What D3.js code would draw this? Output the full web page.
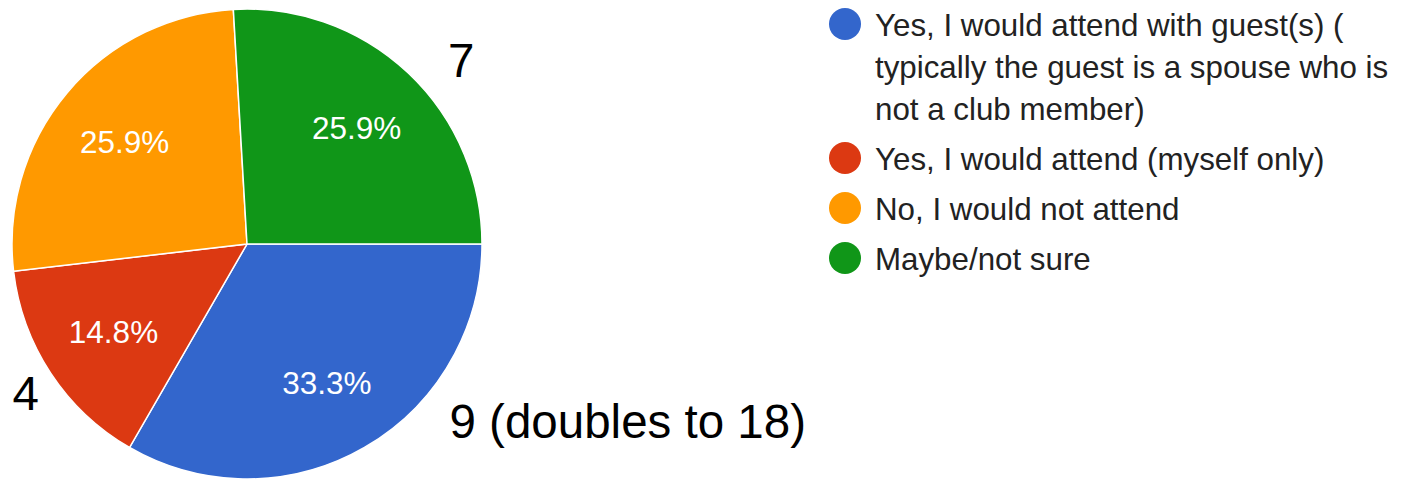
<!DOCTYPE html>
<html>
<head>
<meta charset="utf-8">
<script src="https://cdnjs.cloudflare.com/ajax/libs/d3/7.8.5/d3.min.js"></script>
<style>
  body { margin: 0; background: #fff; }
  svg { display: block; font-family: "Liberation Sans", Arial, Helvetica, sans-serif; }
</style>
</head>
<body>
<svg id="chart" width="1406" height="481"></svg>
<script>
// answers, in the order they go round the pie (starting at 3 o'clock)
var categories = ["Yes, I would attend with guest(s) ( typically the guest is a spouse who is not a club member)",
                  "Yes, I would attend (myself only)",
                  "No, I would not attend",
                  "Maybe/not sure"];
var counts = [9, 4, 7, 7];
var colors = ["#3366cc", "#dc3912", "#ff9900", "#109618"];
// legend text as it wraps in the picture
var legendLines = [
  ["Yes, I would attend with guest(s) (", "typically the guest is a spouse who is", "not a club member)"],
  ["Yes, I would attend (myself only)"],
  ["No, I would not attend"],
  ["Maybe/not sure"]
];
// hand written notes next to the slices
var notes = ["9 (doubles to 18)", "4", "7", "7"];
var showNote = [true, true, false, true];

var svg = d3.select("#chart");
var cx = 247, cy = 244, radius = 235;
var total = d3.sum(counts);

var slices = counts.map(function(c, i){ return {value: c, color: colors[i], name: categories[i], i: i}; });

var pie = d3.pie()
  .value(function(d){ return d.value; })
  .sort(null)
  .startAngle(Math.PI / 2)
  .endAngle(Math.PI / 2 + 2 * Math.PI);

var arc = d3.arc().innerRadius(0).outerRadius(radius);
var labelArc = d3.arc().innerRadius(radius * 0.68).outerRadius(radius * 0.68);
var edgeArc = d3.arc().innerRadius(radius).outerRadius(radius);

var g = svg.append("g").attr("transform", "translate(" + cx + "," + cy + ")");
var arcs = pie(slices);

g.selectAll("path").data(arcs).enter()
  .append("path")
  .attr("d", arc)
  .attr("fill", function(d){ return d.data.color; })
  .attr("stroke", "#fff")
  .attr("stroke-width", 1.5);

var pct = d3.format(".1%");
g.selectAll("text.pct").data(arcs).enter()
  .append("text")
  .attr("class", "pct")
  .attr("transform", function(d){ var c = labelArc.centroid(d); return "translate(" + c[0] + "," + (c[1] + 11.5) + ")"; })
  .attr("text-anchor", "middle")
  .attr("font-size", 31.5)
  .attr("fill", "#fff")
  .text(function(d){ return pct(d.value / total); });

// notes sit just outside the slice edge
var noteOffset = [[85, -10, "start"], [-25, 37, "middle"], [0, 0, "middle"], [53, 4, "middle"]];
g.selectAll("text.note").data(arcs.filter(function(d){ return showNote[d.data.i]; })).enter()
  .append("text")
  .attr("class", "note")
  .attr("x", function(d){ return edgeArc.centroid(d)[0] + noteOffset[d.data.i][0]; })
  .attr("y", function(d){ return edgeArc.centroid(d)[1] + noteOffset[d.data.i][1]; })
  .attr("text-anchor", function(d){ return noteOffset[d.data.i][2]; })
  .attr("font-size", 47.5)
  .attr("fill", "#000")
  .text(function(d){ return notes[d.data.i]; });

// legend
var lineH = 42, gap = 50, y0 = 24;
var legendY = [];
legendLines.reduce(function(y, lines){ legendY.push(y); return y + (lines.length - 1) * lineH + gap; }, y0);

var items = svg.append("g").selectAll("g").data(slices).enter()
  .append("g")
  .attr("transform", function(d){ return "translate(845," + legendY[d.i] + ")"; });

items.append("circle")
  .attr("r", 16)
  .attr("fill", function(d){ return d.color; });

items.append("text")
  .attr("x", 30)
  .attr("font-size", 31.3)
  .attr("fill", "#222")
  .selectAll("tspan").data(function(d){ return legendLines[d.i]; }).enter()
  .append("tspan")
  .attr("x", 30)
  .attr("y", function(t, k){ return 11.5 + k * lineH; })
  .text(function(t){ return t; });
</script>
</body>
</html>
